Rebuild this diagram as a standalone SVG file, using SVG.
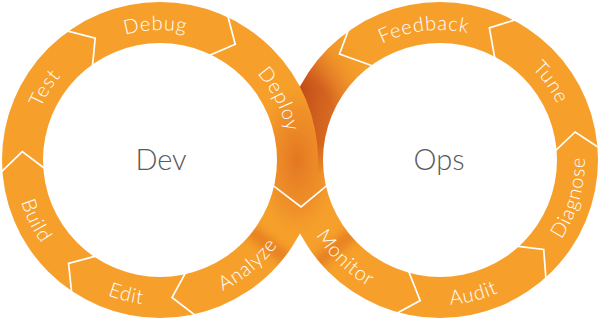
<svg xmlns="http://www.w3.org/2000/svg" width="600" height="319" viewBox="0 0 600 319">
<style>
.lbl{font-family:Lato,"Open Sans","Liberation Sans",sans-serif;font-weight:300;font-size:20px;letter-spacing:0.8px;fill:#ffffff}
.ctr{font-family:Lato,"Open Sans","Liberation Sans",sans-serif;font-weight:300;font-size:29px;fill:#58595b;text-anchor:middle}
.div{fill:none;stroke:#ffffff;stroke-width:1.7;stroke-linejoin:miter}
</style>
<defs>
<clipPath id="rightDisc"><circle cx="440" cy="160" r="158"/></clipPath>
<clipPath id="union"><circle cx="440" cy="160" r="158"/><circle cx="160" cy="160" r="158"/></clipPath>
<radialGradient id="shadowG" gradientUnits="userSpaceOnUse" cx="160" cy="160" r="230">
<stop offset="0.68" stop-color="#b43a14" stop-opacity="1"/>
<stop offset="0.78" stop-color="#c9501c" stop-opacity="0.75"/>
<stop offset="0.9" stop-color="#e0742a" stop-opacity="0.25"/>
<stop offset="1" stop-color="#f6a02b" stop-opacity="0"/>
</radialGradient>
<linearGradient id="fadeV" gradientUnits="userSpaceOnUse" x1="0" y1="20" x2="0" y2="175">
<stop offset="0" stop-color="#fff" stop-opacity="0.5"/>
<stop offset="0.45" stop-color="#fff" stop-opacity="1"/>
<stop offset="0.8" stop-color="#fff" stop-opacity="0.8"/>
<stop offset="1" stop-color="#fff" stop-opacity="0"/>
</linearGradient>
<mask id="fadeMask" maskUnits="userSpaceOnUse" x="0" y="0" width="600" height="319">
<rect x="280" y="0" width="120" height="180" fill="url(#fadeV)"/>
</mask>
<radialGradient id="crossG" cx="0.5" cy="0.5" r="0.5">
<stop offset="0" stop-color="#df6c20" stop-opacity="0.8"/>
<stop offset="0.6" stop-color="#e57a25" stop-opacity="0.4"/>
<stop offset="1" stop-color="#f6a02b" stop-opacity="0"/>
</radialGradient>
<filter id="soft" x="-50%" y="-50%" width="200%" height="200%"><feGaussianBlur stdDeviation="5"/></filter>
<path id="pDebug" d="M45.2,99.0 A130,130 0 0 1 270.2,91.1"/>
<path id="pTest" d="M45.2,221.0 A130,130 0 0 1 164.5,30.1"/>
<path id="pDeploy" d="M166.8,30.2 A130,130 0 0 1 269.0,230.8"/>
<path id="pFeedback" d="M320.3,109.2 A130,130 0 0 1 543.8,81.8"/>
<path id="pTune" d="M428.7,30.5 A130,130 0 0 1 557.8,214.9"/>
<path id="pBuild" d="M39.8,78.9 A145,145 0 0 0 149.9,304.7"/>
<path id="pEdit" d="M20.6,200.0 A145,145 0 0 0 264.3,260.7"/>
<path id="pAnalyze" d="M110.4,296.3 A145,145 0 0 0 302.8,134.8"/>
<path id="pMonitor" d="M299.3,124.9 A145,145 0 0 0 480.0,299.4"/>
<path id="pAudit" d="M335.7,260.7 A145,145 0 0 0 579.4,200.0"/>
<path id="pDiagnose" d="M475.1,300.7 A145,145 0 0 0 544.3,59.3"/>
</defs>

<g id="rings">
<circle cx="440" cy="160" r="158" fill="#f6a02b"/>
<rect x="280" y="0" width="120" height="180" fill="url(#shadowG)" clip-path="url(#rightDisc)" mask="url(#fadeMask)"/>
<circle cx="160" cy="160" r="158" fill="#f6a02b"/>
<g clip-path="url(#union)">
<ellipse cx="297" cy="160" rx="45" ry="85" fill="url(#crossG)"/>
<line x1="248.3" y1="229.0" x2="290.0" y2="261.6" stroke="#d8641c" stroke-width="12" opacity="0.55" filter="url(#soft)"/>
<line x1="354.2" y1="232.0" x2="313.6" y2="266.1" stroke="#d8641c" stroke-width="12" opacity="0.55" filter="url(#soft)"/>
</g>
<circle cx="160" cy="160" r="117" fill="#ffffff"/>
<circle cx="440" cy="160" r="117" fill="#ffffff"/>
</g>

<g id="connectors">
<polyline class="div" points="66.0,30.6 95.2,38.2 92.4,67.0"/>
<polyline class="div" points="227.6,15.0 235.2,44.3 208.6,55.8"/>
<polyline class="div" points="196.0,315.9 172.0,297.5 185.9,272.1"/>
<polyline class="div" points="71.7,293.4 68.6,263.4 96.5,255.9"/>
<polyline class="div" points="0.5,172.6 22.3,151.6 45.4,169.0"/>
<polyline class="div" points="273.5,185.8 301,207 326.5,185.8"/>
<polyline class="div" points="350.5,24.5 339.5,54 371.5,65.5"/>
<polyline class="div" points="516.4,19.4 489.4,27.9 494.9,58.9"/>
<polyline class="div" points="599.5,148.0 575.1,132.0 554.7,151.4"/>
<polyline class="div" points="546.0,279.8 543.7,249.5 516.2,246.1"/>
<polyline class="div" points="395.9,313.8 420.2,300.6 408.3,270.5"/>
</g>

<g id="dev"><text class="ctr" x="161" y="170">Dev</text></g>
<g id="ops"><text class="ctr" x="439" y="170">Ops</text></g>

<g id="debug"><text class="lbl"><textPath href="#pDebug" startOffset="50%" text-anchor="middle">Debug</textPath></text></g>
<g id="test"><text class="lbl"><textPath href="#pTest" startOffset="50%" text-anchor="middle">Test</textPath></text></g>
<g id="deploy"><text class="lbl"><textPath href="#pDeploy" startOffset="50%" text-anchor="middle">Deploy</textPath></text></g>
<g id="build"><text class="lbl"><textPath href="#pBuild" startOffset="50%" text-anchor="middle">Build</textPath></text></g>
<g id="edit"><text class="lbl"><textPath href="#pEdit" startOffset="50%" text-anchor="middle">Edit</textPath></text></g>
<g id="analyze"><text class="lbl"><textPath href="#pAnalyze" startOffset="50%" text-anchor="middle">Analyze</textPath></text></g>
<g id="feedback"><text class="lbl"><textPath href="#pFeedback" startOffset="50%" text-anchor="middle">Feedback</textPath></text></g>
<g id="tune"><text class="lbl"><textPath href="#pTune" startOffset="50%" text-anchor="middle">Tune</textPath></text></g>
<g id="diagnose"><text class="lbl"><textPath href="#pDiagnose" startOffset="50%" text-anchor="middle">Diagnose</textPath></text></g>
<g id="audit"><text class="lbl"><textPath href="#pAudit" startOffset="50%" text-anchor="middle">Audit</textPath></text></g>
<g id="monitor"><text class="lbl"><textPath href="#pMonitor" startOffset="50%" text-anchor="middle">Monitor</textPath></text></g>
</svg>
